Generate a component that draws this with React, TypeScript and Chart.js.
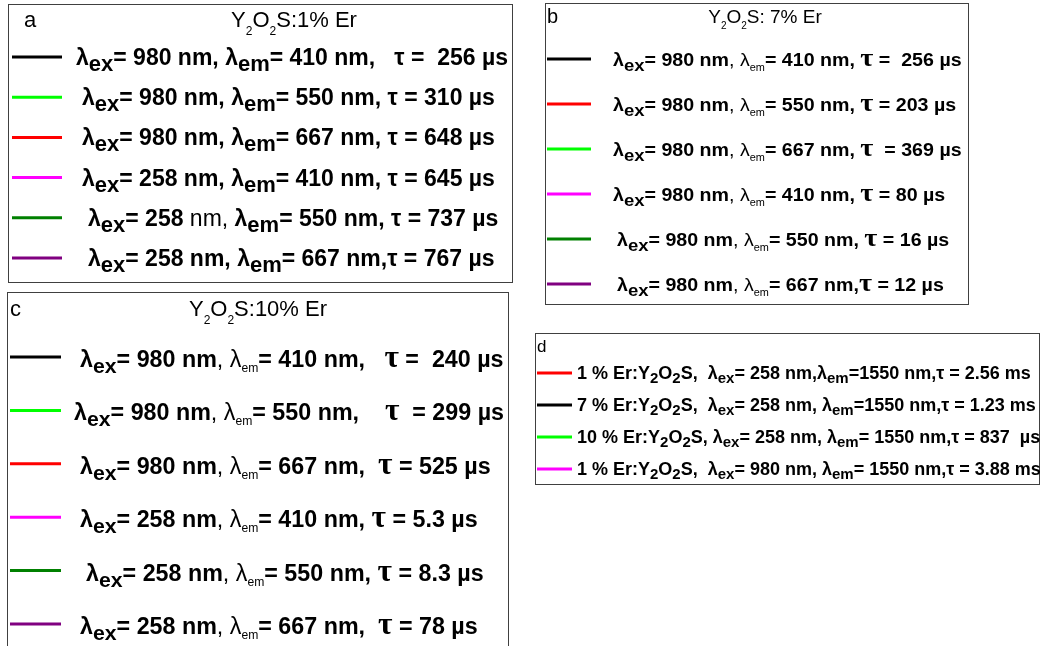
import { useEffect, useRef } from "react";
import { Chart, registerables } from "chart.js";

Chart.register(...registerables);

const W = 1040;
const H = 646;

// Er concentration for the three single-host panels
const erPct = [1, 7, 10];

// Panel a — Y2O2S:1% Er
const excA = [980, 980, 980, 258, 258, 258];
const emA = [410, 550, 667, 410, 550, 667];
const tauA = [256, 310, 648, 645, 737, 767];
const colorsA = ["#000000", "#00ff00", "#ff0000", "#ff00ff", "#008000", "#800080"];
const preTauA = [",   ", ", ", ", ", ", ", ", ", ","];
const eqTauA = [" =  ", " = ", " = ", " = ", " = ", " = "];
const plainNmA = [false, false, false, false, true, false];

// Panel b — Y2O2S: 7% Er
const excB = [980, 980, 980, 980, 980, 980];
const emB = [410, 550, 667, 410, 550, 667];
const tauB = [256, 203, 369, 80, 16, 12];
const colorsB = ["#000000", "#ff0000", "#00ff00", "#ff00ff", "#008000", "#800080"];
const preTauB = [", ", ", ", ", ", ", ", ", ", ","];
const eqTauB = [" =  ", " = ", "  = ", " = ", " = ", " = "];

// Panel c — Y2O2S:10% Er
const excC = [980, 980, 980, 258, 258, 258];
const emC = [410, 550, 667, 410, 550, 667];
const tauC = [240, 299, 525, 5.3, 8.3, 78];
const colorsC = ["#000000", "#00ff00", "#ff0000", "#ff00ff", "#008000", "#800080"];
const preTauC = [",   ", ",    ", ",  ", ", ", ", ", ",  "];
const eqTauC = [" =  ", "  = ", " = ", " = ", " = ", " = "];

// Panel d — 1550 nm emission
const erD = [1, 7, 10, 1];
const excD = [258, 258, 258, 980];
const emD = [1550, 1550, 1550, 1550];
const tauD = [2.56, 1.23, 837, 3.88];
const unitD = ["ms", "ms", "µs", "ms"];
const colorsD = ["#ff0000", "#000000", "#00ff00", "#ff00ff"];
const sepExD = ["  ", "  ", " ", "  "];
const sepEmD = ["", " ", " ", " "];
const eqEmD = ["=", "=", "= ", "= "];
const unitSepD = [" ", " ", "  ", " "];

const SANS = "'Liberation Sans', Arial, sans-serif";
const SERIF = "'Liberation Serif', 'Times New Roman', serif";
const f = (w: string, px: number, fam = SANS) => `${w} ${px}px ${fam}`;

type Run = { t: string; f: string; dy?: number };

type Style = {
  main: string;
  plain: string;
  exSub: string;
  exDy: number;
  emSub: string;
  emDy: number;
  lamEm: string;
  comma: string;
  tau: string;
};

type Panel = {
  letter: string;
  box: [number, number, number, number];
  letterPos: [number, number, number];
  title: { cx: number; y: number; size: number; sub: number; subDy: number; sep: string };
  pct: number;
  lineX: [number, number];
  rowY0: number;
  rowStep: number;
  textX: number[];
  baseOff: number;
  stretch: number;
  colors: string[];
  rows: Run[][];
};

function absRows(
  exc: number[],
  em: number[],
  tau: number[],
  preTau: string[],
  eqTau: string[],
  s: Style,
  plainNm?: boolean[]
): Run[][] {
  return exc.map((ex, i) => [
    { t: "λ", f: s.main },
    { t: "ex", f: s.exSub, dy: s.exDy },
    { t: `= ${ex} `, f: s.main },
    { t: "nm", f: plainNm && plainNm[i] ? s.plain : s.main },
    { t: ",", f: plainNm && plainNm[i] ? s.plain : s.comma },
    { t: " ", f: s.main },
    { t: "λ", f: s.lamEm },
    { t: "em", f: s.emSub, dy: s.emDy },
    { t: `= ${em[i]} nm${preTau[i]}`, f: s.main },
    { t: "τ", f: s.tau },
    { t: `${eqTau[i]}${tau[i]} µs`, f: s.main },
  ]);
}

const styleA: Style = {
  main: f("bold", 23),
  plain: f("normal", 23),
  exSub: f("bold", 22),
  exDy: 6,
  emSub: f("bold", 22),
  emDy: 6,
  lamEm: f("bold", 23),
  comma: f("bold", 23),
  tau: f("bold", 23),
};

const styleB: Style = {
  main: f("bold", 18),
  plain: f("normal", 18),
  exSub: f("bold", 17),
  exDy: 5,
  emSub: f("normal", 10),
  emDy: 5,
  lamEm: f("normal", 18),
  comma: f("normal", 18),
  tau: f("bold", 26, SERIF),
};

const styleC: Style = {
  main: f("bold", 23),
  plain: f("normal", 23),
  exSub: f("bold", 21),
  exDy: 6,
  emSub: f("normal", 12),
  emDy: 5,
  lamEm: f("normal", 23),
  comma: f("normal", 23),
  tau: f("bold", 31, SERIF),
};

const dMain = f("bold", 18);
const dSub = f("bold", 15);
const rowsD: Run[][] = erD.map((er, i) => [
  { t: `${er} % Er:Y`, f: dMain },
  { t: "2", f: dSub, dy: 4 },
  { t: "O", f: dMain },
  { t: "2", f: dSub, dy: 4 },
  { t: `S,${sepExD[i]}λ`, f: dMain },
  { t: "ex", f: dSub, dy: 4 },
  { t: `= ${excD[i]} nm,${sepEmD[i]}λ`, f: dMain },
  { t: "em", f: dSub, dy: 4 },
  { t: `${eqEmD[i]}${emD[i]} nm,τ = ${tauD[i]}${unitSepD[i]}${unitD[i]}`, f: dMain },
]);

const panels: Panel[] = [
  {
    letter: "a",
    box: [8, 4, 512, 282],
    letterPos: [24, 27, 22],
    title: { cx: 294, y: 27, size: 22, sub: 12, subDy: 8, sep: ":" },
    pct: erPct[0],
    lineX: [12, 62],
    rowY0: 57,
    rowStep: 40.2,
    textX: [76, 82, 82, 82, 88, 88],
    baseOff: 8,
    stretch: 1,
    colors: colorsA,
    rows: absRows(excA, emA, tauA, preTauA, eqTauA, styleA, plainNmA),
  },
  {
    letter: "b",
    box: [545, 3, 968, 304],
    letterPos: [547, 23, 20],
    title: { cx: 765, y: 23, size: 19, sub: 10, subDy: 6, sep: ": " },
    pct: erPct[1],
    lineX: [547, 591],
    rowY0: 59,
    rowStep: 45,
    textX: [613, 613, 613, 613, 617, 617],
    baseOff: 7,
    stretch: 1.09,
    colors: colorsB,
    rows: absRows(excB, emB, tauB, preTauB, eqTauB, styleB),
  },
  {
    letter: "c",
    box: [7, 292, 508, 660],
    letterPos: [10, 316, 22],
    title: { cx: 258, y: 316, size: 22, sub: 12, subDy: 8, sep: ":" },
    pct: erPct[2],
    lineX: [10, 61],
    rowY0: 357,
    rowStep: 53.4,
    textX: [80, 74, 80, 80, 86, 80],
    baseOff: 10,
    stretch: 1.012,
    colors: colorsC,
    rows: absRows(excC, emC, tauC, preTauC, eqTauC, styleC),
  },
  {
    letter: "d",
    box: [535, 333, 1039, 484],
    letterPos: [537, 352, 17],
    title: { cx: 0, y: 0, size: 0, sub: 0, subDy: 0, sep: "" },
    pct: 0,
    lineX: [537, 572],
    rowY0: 373,
    rowStep: 32,
    textX: [577, 577, 577, 577],
    baseOff: 6,
    stretch: 1,
    colors: colorsD,
    rows: rowsD,
  },
];

function drawRuns(ctx: CanvasRenderingContext2D, runs: Run[], x: number, y: number, k = 1): number {
  ctx.save();
  ctx.translate(x, y);
  ctx.scale(k, 1);
  let cx = 0;
  for (const r of runs) {
    ctx.font = r.f;
    ctx.fillText(r.t, cx, r.dy || 0);
    cx += ctx.measureText(r.t).width;
  }
  ctx.restore();
  return x + cx * k;
}

function runsWidth(ctx: CanvasRenderingContext2D, runs: Run[]): number {
  let w = 0;
  for (const r of runs) {
    ctx.font = r.f;
    w += ctx.measureText(r.t).width;
  }
  return w;
}

const legendPanels = {
  id: "legendPanels",
  afterDraw(chart: Chart) {
    const ctx = chart.ctx;
    const sx = chart.scales.x;
    const sy = chart.scales.y;
    const X = (v: number) => sx.getPixelForValue(v);
    const Y = (v: number) => sy.getPixelForValue(v);
    ctx.save();
    ctx.fillStyle = "#ffffff";
    ctx.fillRect(0, 0, chart.width, chart.height);
    ctx.textBaseline = "alphabetic";
    ctx.textAlign = "left";

    for (const p of panels) {
      // frame
      const [x0, y0, x1, y1] = p.box;
      ctx.strokeStyle = "#404040";
      ctx.lineWidth = 1;
      ctx.strokeRect(Math.round(X(x0)) + 0.5, Math.round(Y(y0)) + 0.5, X(x1) - X(x0), Y(y1) - Y(y0));

      // panel letter
      ctx.fillStyle = "#000000";
      ctx.font = f("normal", p.letterPos[2]);
      ctx.fillText(p.letter, X(p.letterPos[0]), Y(p.letterPos[1]));

      // title
      if (p.title.size > 0) {
        const tf = f("normal", p.title.size);
        const sf = f("normal", p.title.sub);
        const runs: Run[] = [
          { t: "Y", f: tf },
          { t: "2", f: sf, dy: p.title.subDy },
          { t: "O", f: tf },
          { t: "2", f: sf, dy: p.title.subDy },
          { t: `S${p.title.sep}${p.pct}% Er`, f: tf },
        ];
        const w = runsWidth(ctx, runs);
        drawRuns(ctx, runs, X(p.title.cx) - w / 2, Y(p.title.y));
      }

      // entries
      p.rows.forEach((runs, i) => {
        const ry = p.rowY0 + p.rowStep * i;
        ctx.strokeStyle = p.colors[i];
        ctx.lineWidth = 3;
        ctx.beginPath();
        ctx.moveTo(X(p.lineX[0]), Y(ry));
        ctx.lineTo(X(p.lineX[1]), Y(ry));
        ctx.stroke();
        ctx.fillStyle = "#000000";
        drawRuns(ctx, runs, X(p.textX[i]), Y(ry + p.baseOff), p.stretch);
      });
    }
    ctx.restore();
  },
};

export default function App() {
  const ref = useRef<HTMLCanvasElement | null>(null);

  useEffect(() => {
    if (!ref.current) return;
    const chart = new Chart(ref.current, {
      type: "scatter",
      data: { datasets: [] },
      options: {
        responsive: false,
        animation: false,
        layout: { padding: 0 },
        plugins: { legend: { display: false }, tooltip: { enabled: false }, title: { display: false } },
        scales: {
          x: { type: "linear", min: 0, max: W, display: false },
          y: { type: "linear", min: 0, max: H, reverse: true, display: false },
        },
      },
      plugins: [legendPanels],
    });
    return () => chart.destroy();
  }, []);

  return (
    <div style={{ position: "fixed", left: 0, top: 0, width: W, height: H, background: "#ffffff" }}>
      <canvas ref={ref} width={W} height={H} style={{ display: "block", width: W, height: H }} />
    </div>
  );
}
